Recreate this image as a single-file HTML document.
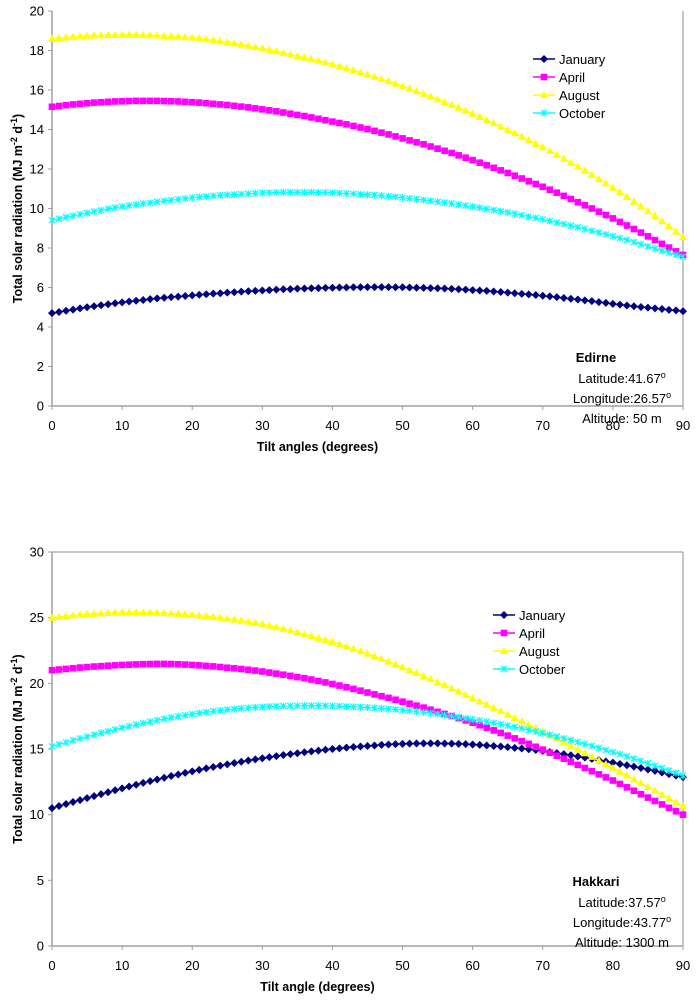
<!DOCTYPE html>
<html><head><meta charset="utf-8"><style>
body{margin:0;background:#fff;}
svg{display:block;font-family:"Liberation Sans",Arial,sans-serif;}
</style></head><body>
<svg id="s" width="697" height="1000" viewBox="0 0 697 1000"></svg>
<script>
const tilt=[];for(let i=0;i<=90;i++)tilt.push(i);
const xTicks=[0,10,20,30,40,50,60,70,80,90];
const topYTicks=[0,2,4,6,8,10,12,14,16,18,20];
const botYTicks=[0,5,10,15,20,25,30];
const seriesNames=["January","April","August","October"];
const edJan=[4.70,4.76,4.82,4.88,4.94,5.00,5.05,5.10,5.15,5.20,5.25,5.29,5.33,5.37,5.41,5.45,5.48,5.51,5.54,5.57,5.60,5.63,5.66,5.69,5.71,5.74,5.76,5.79,5.81,5.83,5.85,5.87,5.89,5.91,5.92,5.94,5.95,5.96,5.97,5.98,5.99,6.00,6.00,6.01,6.01,6.02,6.02,6.02,6.02,6.01,6.01,6.00,5.99,5.98,5.97,5.96,5.95,5.93,5.91,5.89,5.87,5.85,5.83,5.80,5.77,5.74,5.71,5.68,5.65,5.62,5.58,5.55,5.51,5.47,5.43,5.39,5.35,5.31,5.26,5.22,5.17,5.13,5.09,5.05,5.01,4.98,4.94,4.91,4.87,4.84,4.80];
const edApr=[15.15,15.19,15.23,15.27,15.30,15.33,15.36,15.38,15.40,15.42,15.43,15.44,15.45,15.45,15.45,15.45,15.44,15.43,15.42,15.40,15.38,15.36,15.33,15.30,15.27,15.24,15.20,15.16,15.12,15.07,15.02,14.97,14.92,14.86,14.80,14.74,14.68,14.61,14.54,14.47,14.40,14.33,14.26,14.18,14.10,14.02,13.93,13.84,13.75,13.65,13.55,13.45,13.35,13.25,13.14,13.03,12.92,12.81,12.69,12.57,12.45,12.32,12.19,12.06,11.93,11.80,11.66,11.52,11.38,11.24,11.10,10.95,10.80,10.64,10.48,10.32,10.16,10.00,9.84,9.67,9.50,9.32,9.14,8.96,8.78,8.59,8.40,8.21,8.02,7.83,7.65];
const edAug=[18.60,18.63,18.66,18.69,18.72,18.74,18.76,18.77,18.78,18.79,18.80,18.80,18.79,18.78,18.77,18.76,18.74,18.72,18.70,18.68,18.65,18.61,18.57,18.52,18.47,18.42,18.36,18.30,18.24,18.17,18.10,18.03,17.96,17.88,17.80,17.72,17.64,17.56,17.48,17.39,17.30,17.20,17.10,17.00,16.89,16.78,16.67,16.56,16.44,16.32,16.20,16.07,15.94,15.81,15.67,15.53,15.39,15.25,15.10,14.95,14.80,14.64,14.48,14.32,14.15,13.98,13.81,13.64,13.46,13.28,13.10,12.91,12.72,12.52,12.32,12.12,11.92,11.71,11.49,11.27,11.05,10.82,10.59,10.35,10.11,9.87,9.62,9.36,9.10,8.83,8.55];
const edOct=[9.40,9.48,9.56,9.63,9.70,9.77,9.84,9.91,9.98,10.04,10.10,10.15,10.20,10.25,10.29,10.34,10.38,10.42,10.46,10.50,10.55,10.58,10.61,10.64,10.67,10.69,10.71,10.73,10.75,10.77,10.79,10.80,10.81,10.82,10.82,10.82,10.82,10.82,10.81,10.81,10.80,10.78,10.76,10.74,10.72,10.70,10.68,10.65,10.62,10.59,10.55,10.51,10.47,10.43,10.39,10.34,10.30,10.25,10.20,10.15,10.10,10.04,9.98,9.92,9.86,9.80,9.73,9.66,9.59,9.52,9.45,9.37,9.29,9.21,9.13,9.05,8.96,8.87,8.78,8.69,8.60,8.50,8.40,8.30,8.19,8.08,7.97,7.86,7.76,7.65,7.55];
const hkJan=[10.50,10.66,10.81,10.96,11.11,11.26,11.41,11.56,11.71,11.86,12.00,12.14,12.28,12.42,12.55,12.68,12.81,12.94,13.06,13.18,13.30,13.41,13.52,13.63,13.73,13.83,13.93,14.03,14.12,14.21,14.30,14.38,14.46,14.54,14.61,14.68,14.75,14.82,14.88,14.94,15.00,15.05,15.10,15.15,15.19,15.23,15.27,15.31,15.34,15.37,15.39,15.41,15.42,15.43,15.43,15.43,15.42,15.41,15.39,15.37,15.34,15.31,15.27,15.23,15.19,15.14,15.09,15.04,14.98,14.92,14.86,14.77,14.69,14.61,14.52,14.43,14.34,14.25,14.15,14.05,13.96,13.86,13.76,13.66,13.55,13.44,13.33,13.21,13.09,12.97,12.85];
const hkApr=[21.00,21.05,21.10,21.15,21.20,21.24,21.28,21.31,21.34,21.37,21.40,21.42,21.44,21.46,21.47,21.48,21.48,21.47,21.45,21.43,21.40,21.37,21.33,21.29,21.24,21.19,21.14,21.09,21.03,20.97,20.90,20.82,20.74,20.66,20.57,20.48,20.39,20.29,20.18,20.07,19.95,19.83,19.70,19.57,19.44,19.30,19.16,19.02,18.89,18.75,18.60,18.45,18.30,18.15,17.99,17.83,17.67,17.51,17.35,17.18,17.00,16.81,16.62,16.42,16.22,16.02,15.81,15.60,15.39,15.17,14.95,14.72,14.49,14.26,14.03,13.79,13.55,13.31,13.07,12.84,12.60,12.34,12.08,11.82,11.56,11.30,11.04,10.78,10.52,10.26,10.00];
const hkAug=[25.00,25.06,25.12,25.17,25.22,25.26,25.30,25.33,25.36,25.38,25.40,25.41,25.41,25.40,25.39,25.37,25.35,25.32,25.29,25.25,25.21,25.16,25.11,25.05,24.99,24.92,24.85,24.77,24.69,24.60,24.50,24.39,24.27,24.15,24.02,23.88,23.74,23.60,23.45,23.30,23.15,22.98,22.81,22.63,22.45,22.26,22.06,21.86,21.65,21.44,21.22,21.00,20.78,20.55,20.32,20.09,19.85,19.61,19.37,19.12,18.87,18.63,18.38,18.13,17.88,17.62,17.36,17.10,16.84,16.58,16.32,16.05,15.78,15.51,15.24,14.96,14.68,14.40,14.12,13.84,13.56,13.27,12.98,12.69,12.40,12.11,11.82,11.53,11.24,10.94,10.64];
const hkOct=[15.20,15.35,15.50,15.65,15.80,15.94,16.08,16.22,16.35,16.48,16.61,16.73,16.85,16.97,17.08,17.19,17.29,17.39,17.48,17.57,17.65,17.73,17.80,17.87,17.93,17.99,18.04,18.09,18.13,18.17,18.20,18.23,18.25,18.27,18.28,18.29,18.30,18.30,18.30,18.29,18.28,18.26,18.24,18.22,18.19,18.16,18.13,18.09,18.05,18.01,17.97,17.91,17.85,17.79,17.72,17.65,17.58,17.50,17.42,17.34,17.26,17.17,17.08,16.98,16.88,16.78,16.67,16.56,16.45,16.33,16.21,16.08,15.95,15.81,15.67,15.53,15.38,15.23,15.08,14.92,14.76,14.60,14.43,14.26,14.09,13.91,13.73,13.55,13.36,13.17,12.98];

const NS="http://www.w3.org/2000/svg";
const svg=document.getElementById('s');
const colors=["#000080","#FF00FF","#FFFF00","#00FFFF"];
function mk(tag,attrs,parent){const e=document.createElementNS(NS,tag);for(const k in attrs)e.setAttribute(k,attrs[k]);(parent||svg).appendChild(e);return e;}
function marker(g,kind,x,y,c){
  let m;
  if(kind===0){m=mk('polygon',{points:`${x},${y-4} ${x+4},${y} ${x},${y+4} ${x-4},${y}`,fill:c},g);}
  else if(kind===1){m=mk('rect',{x:x-3.3,y:y-3.3,width:6.6,height:6.6,fill:c},g);}
  else if(kind===2){m=mk('polygon',{points:`${x},${y-4.2} ${x+4},${y+3} ${x-4},${y+3}`,fill:c},g);}
  else {m=mk('path',{d:`M${x-3},${y-3}L${x+3},${y+3}M${x+3},${y-3}L${x-3},${y+3}M${x},${y-3.5}L${x},${y+3.5}`,stroke:c,'stroke-width':1.2,fill:'none'},g);}
  
  
}
function chart(cfg){
  const g=mk('g',{});
  
  
  const X=v=>cfg.x0+(v-0)/90*(cfg.x1-cfg.x0);
  const Y=v=>cfg.y0-(v-0)/cfg.ymax*(cfg.y0-cfg.y1);
  // axes
  const ax=mk('path',{d:`M${cfg.x0},${cfg.y1}L${cfg.x0},${cfg.y0}L${cfg.x1},${cfg.y0}`,stroke:'#a0a0a0','stroke-width':1.5,fill:'none'},g);
  
  const rb=mk('path',{d:`M${cfg.x1},${cfg.y1}L${cfg.x1},${cfg.y0}`+(cfg.topLine?`M${cfg.x0},${cfg.y1}L${cfg.x1},${cfg.y1}`:''),stroke:'#a0a0a0','stroke-width':1.2,fill:'none'},g);
  
  cfg.yTicks.forEach(t=>{
    mk('line',{x1:cfg.x0-4,x2:cfg.x0,y1:Y(t),y2:Y(t),stroke:'#a0a0a0','stroke-width':1},g);
    const tx=mk('text',{x:cfg.x0-8,y:Y(t)+4.5,'text-anchor':'end','font-size':13,fill:'#000'},g);
    tx.textContent=t;
  });
  xTicks.forEach(t=>{
    mk('line',{x1:X(t),x2:X(t),y1:cfg.y0,y2:cfg.y0+4,stroke:'#a0a0a0','stroke-width':1},g);
    const tx=mk('text',{x:X(t),y:cfg.y0+24,'text-anchor':'middle','font-size':13,fill:'#000'},g);
    tx.textContent=t;
  });
  cfg.series.forEach((vals,si)=>{
    const sg=mk('g',{},g);
    
    
    const d=vals.map((v,i)=>(i?'L':'M')+X(tilt[i]).toFixed(2)+','+Y(v).toFixed(2)).join('');
    mk('path',{d:d,stroke:colors[si],'stroke-width':1.2,fill:'none'},sg);
    vals.forEach((v,i)=>marker(sg,si,X(tilt[i]),Y(v),colors[si]));
  });
  // legend
  const lg=mk('g',{},g);
  
  seriesNames.forEach((n,i)=>{
    const y=cfg.legY+i*18;
    const eg=mk('g',{},lg);
    
    mk('line',{x1:cfg.legX,x2:cfg.legX+22,y1:y,y2:y,stroke:colors[i],'stroke-width':1.5},eg);
    marker(eg,i,cfg.legX+11,y,colors[i]);
    const t=mk('text',{x:cfg.legX+26,y:y+5,'font-size':13,fill:'#000'},eg);t.textContent=n;
  });
  // y title
  const yt=mk('text',{transform:`translate(22,${(cfg.y0+cfg.y1)/2}) rotate(-90)`,'text-anchor':'middle','font-size':12.5,'font-weight':'bold',fill:'#000'},g);
  
  yt.innerHTML='Total solar radiation (MJ m<tspan dy="-5" font-size="9">-2</tspan><tspan dy="5"> d</tspan><tspan dy="-5" font-size="9">-1</tspan><tspan dy="5">)</tspan>';
  const xt=mk('text',{x:(cfg.x0+cfg.x1)/2-50,y:cfg.y0+45,'text-anchor':'middle','font-size':12.5,'font-weight':'bold',fill:'#000'},g);
  
  xt.textContent=cfg.xTitle;
  // annotation
  const an=mk('g',{},g);
  
  const t0=mk('text',{x:cfg.annX,y:cfg.annY,'text-anchor':'middle','font-size':13,'font-weight':'bold'},an);t0.textContent=cfg.station;
  cfg.ann.forEach((s,i)=>{
    const t=mk('text',{x:cfg.annX+26,y:cfg.annY+21+i*20,'text-anchor':'middle','font-size':13},an);
    t.innerHTML=s;
  });
}
chart({name:'edirne-chart',x0:52,x1:683,y0:406,y1:11,ymax:20,yTicks:topYTicks,topLine:false,
  series:[edJan,edApr,edAug,edOct],legX:533,legY:59,xTitle:'Tilt angles (degrees)',
  station:'Edirne',annX:596,annY:362,
  ann:['Latitude:41.67<tspan dy="-5" font-size="9">o</tspan>','Longitude:26.57<tspan dy="-5" font-size="9">o</tspan>','Altitude: 50 m']});
chart({name:'hakkari-chart',x0:52,x1:683,y0:946,y1:552,ymax:30,yTicks:botYTicks,topLine:true,
  series:[hkJan,hkApr,hkAug,hkOct],legX:493,legY:615,xTitle:'Tilt angle (degrees)',
  station:'Hakkari',annX:596,annY:886,
  ann:['Latitude:37.57<tspan dy="-5" font-size="9">o</tspan>','Longitude:43.77<tspan dy="-5" font-size="9">o</tspan>','Altitude: 1300 m']});
</script>
</body></html>
